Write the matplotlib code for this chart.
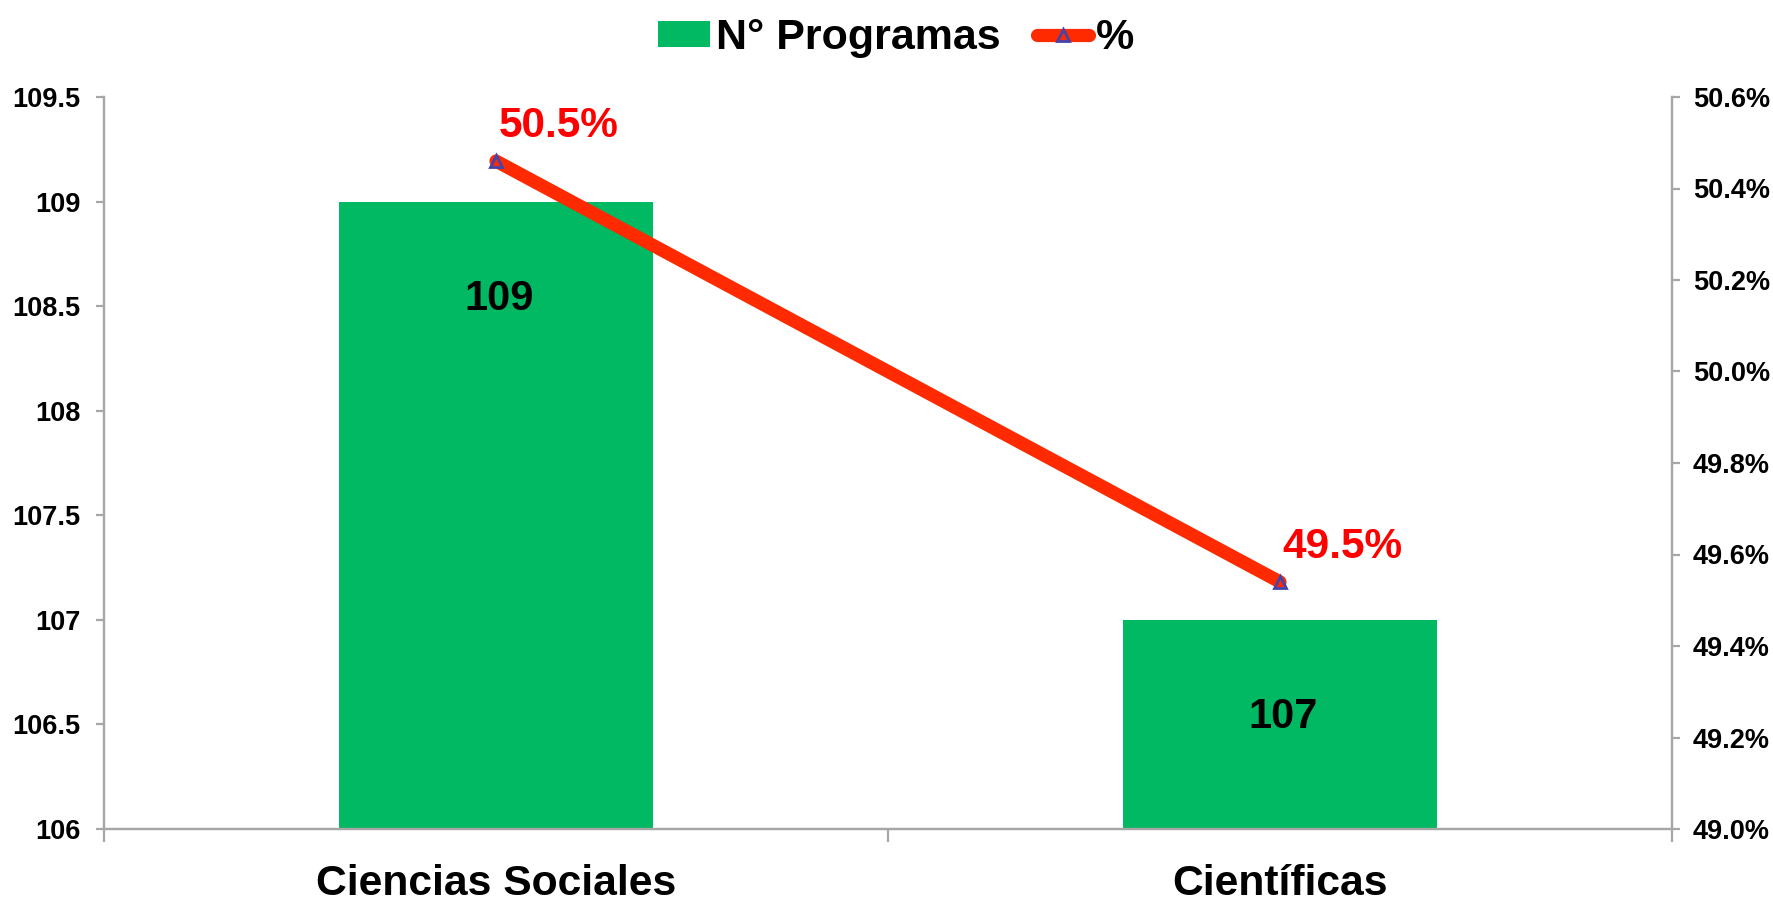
import numpy as np
import matplotlib.pyplot as plt
from matplotlib.ticker import FuncFormatter, MultipleLocator

plt.rcParams['font.family'] = ['Liberation Sans', 'DejaVu Sans']
plt.rcParams['font.weight'] = 'bold'

# datos
categorias = ['Ciencias Sociales', 'Científicas']
programas = [109, 107]
porcentaje = [50.46, 49.54]
etiquetas_pct = ['50.5%', '49.5%']

verde = '#00B962'
rojo = '#FF2A00'
gris = '#A6A6A6'

fig = plt.figure(figsize=(17.73, 9.02), dpi=100)
ax = fig.add_axes([104 / 1773, 1 - 829 / 902, (1672 - 104) / 1773, (829 - 97) / 902])
x = np.arange(len(categorias))

barras = ax.bar(x, programas, width=0.4, color=verde, label='N° Programas', zorder=2)
ax.set_xlim(-0.5, 1.5)
ax.set_ylim(106, 109.5)
ax.yaxis.set_major_locator(MultipleLocator(0.5))
ax.yaxis.set_major_formatter(FuncFormatter(lambda v, p: f'{v:g}'))

for xi, v in zip(x, programas):
    ax.annotate(str(v), (xi, v), xytext=(2, -70), textcoords='offset points',
                ha='center', va='center', fontsize=30, fontweight='bold', color='black')

ax2 = ax.twinx()
linea, = ax2.plot(x, porcentaje, color=rojo, lw=9.5, solid_capstyle='round',
                  marker='^', markersize=9, markerfacecolor='none',
                  markeredgecolor='#4444AA', markeredgewidth=2, label='%')
ax2.set_ylim(49.0, 50.6)
ax2.yaxis.set_major_locator(MultipleLocator(0.2))
ax2.yaxis.set_major_formatter(FuncFormatter(lambda v, p: f'{v:.1f}%'))

for xi, v, t in zip(x, porcentaje, etiquetas_pct):
    ax2.annotate(t, (xi, v), xytext=(2, 11), textcoords='offset points',
                 ha='left', va='bottom', fontsize=30.5, fontweight='bold', color='#FF0000')

# ejes
for a in (ax, ax2):
    a.spines['top'].set_visible(False)
    for s in ('left', 'right', 'bottom'):
        a.spines[s].set_color(gris)
        a.spines[s].set_linewidth(1.6)
    a.tick_params(axis='y', length=6, width=1.6, color=gris, labelsize=19.5, pad=11)
ax2.tick_params(axis='y', pad=9)

ax.set_xticks(x)
ax.set_xticklabels(categorias, fontsize=30.7, fontweight='bold')
ax.tick_params(axis='x', length=0, pad=25)
ax.set_xticks([-0.5, 0.5, 1.5], minor=True)
ax.tick_params(axis='x', which='minor', length=9, width=1.6, color=gris)

fig.legend([barras, linea], ['N° Programas', '%'], loc='center',
           bbox_to_anchor=(896 / 1773, 1 - 38 / 902), ncol=2, frameon=False,
           fontsize=31, handlelength=1.2, handleheight=0.55, handletextpad=0.16,
           columnspacing=0.84, numpoints=1)

fig.savefig('out.png', dpi=100)
